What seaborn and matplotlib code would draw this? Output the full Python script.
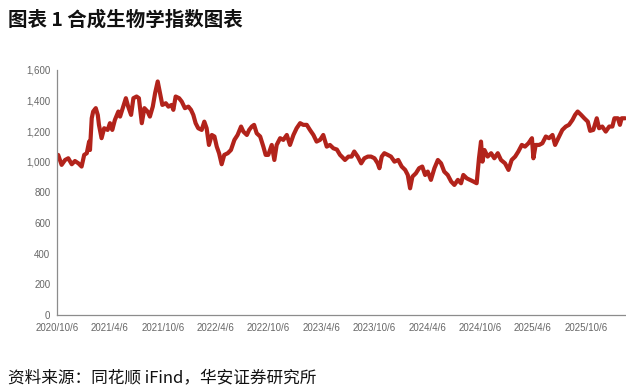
import matplotlib
matplotlib.use("Agg")
import matplotlib.pyplot as plt
import seaborn as sns
import pandas as pd

# ---- data ----
dates = [
    "2020-10-06", "2020-10-09", "2020-10-21", "2020-11-02", "2020-11-13", "2020-11-25",
    "2020-12-06", "2020-12-18", "2020-12-29", "2021-01-07", "2021-01-16", "2021-01-24",
    "2021-01-27", "2021-02-02", "2021-02-07", "2021-02-16", "2021-02-23", "2021-02-27",
    "2021-03-08", "2021-03-17", "2021-03-29", "2021-04-06", "2021-04-14", "2021-04-23",
    "2021-05-05", "2021-05-11", "2021-05-22", "2021-05-31", "2021-06-08", "2021-06-18",
    "2021-06-26", "2021-07-07", "2021-07-15", "2021-07-25", "2021-08-03", "2021-08-14",
    "2021-08-22", "2021-09-01", "2021-09-09", "2021-09-18", "2021-09-26", "2021-10-04",
    "2021-10-16", "2021-10-25", "2021-11-05", "2021-11-11", "2021-11-19", "2021-12-01",
    "2021-12-10", "2021-12-21", "2022-01-02", "2022-01-11", "2022-01-19", "2022-01-27",
    "2022-02-05", "2022-02-17", "2022-02-26", "2022-03-06", "2022-03-14", "2022-03-24",
    "2022-04-02", "2022-04-10", "2022-04-18", "2022-04-27", "2022-05-06", "2022-05-18",
    "2022-05-29", "2022-06-10", "2022-06-21", "2022-07-03", "2022-07-11", "2022-07-23",
    "2022-07-31", "2022-08-09", "2022-08-17", "2022-08-26", "2022-09-07", "2022-09-18",
    "2022-09-26", "2022-10-05", "2022-10-17", "2022-10-26", "2022-11-03", "2022-11-15",
    "2022-11-26", "2022-12-08", "2022-12-19", "2022-12-31", "2023-01-11", "2023-01-23",
    "2023-02-03", "2023-02-15", "2023-02-26", "2023-03-10", "2023-03-21", "2023-04-02",
    "2023-04-13", "2023-04-25", "2023-05-06", "2023-05-18", "2023-05-30", "2023-06-10",
    "2023-06-16", "2023-06-27", "2023-07-09", "2023-07-20", "2023-07-29", "2023-08-10",
    "2023-08-22", "2023-09-02", "2023-09-14", "2023-09-25", "2023-10-07", "2023-10-18",
    "2023-10-24", "2023-11-01", "2023-11-10", "2023-11-22", "2023-12-03", "2023-12-15",
    "2023-12-28", "2024-01-09", "2024-01-21", "2024-01-30", "2024-02-07", "2024-02-15",
    "2024-02-27", "2024-03-09", "2024-03-20", "2024-03-30", "2024-04-08", "2024-04-19",
    "2024-05-01", "2024-05-13", "2024-05-24", "2024-06-04", "2024-06-16", "2024-06-28",
    "2024-07-09", "2024-07-21", "2024-08-01", "2024-08-09", "2024-08-21", "2024-09-01",
    "2024-09-13", "2024-09-24", "2024-10-02", "2024-10-09", "2024-10-14", "2024-10-21",
    "2024-11-01", "2024-11-13", "2024-11-24", "2024-12-06", "2024-12-17", "2024-12-31",
    "2025-01-12", "2025-01-23", "2025-02-04", "2025-02-15", "2025-02-27", "2025-03-10",
    "2025-03-22", "2025-04-03", "2025-04-08", "2025-04-16", "2025-04-28", "2025-05-09",
    "2025-05-21", "2025-06-01", "2025-06-13", "2025-06-22", "2025-07-03", "2025-07-17",
    "2025-07-29", "2025-08-09", "2025-08-21", "2025-08-30", "2025-09-08", "2025-09-20",
    "2025-10-01", "2025-10-13", "2025-10-21", "2025-11-01", "2025-11-13", "2025-11-21",
    "2025-12-02", "2025-12-14", "2025-12-26", "2026-01-06", "2026-01-13", "2026-01-25",
    "2026-02-01", "2026-02-07", "2026-02-19",
]
index_values = [
    1040, 1045, 980, 1012, 1023, 984,
    1005, 990, 969, 1045, 1056, 1132,
    1077, 1284, 1328, 1350, 1305, 1241,
    1154, 1219, 1208, 1252, 1208, 1273,
    1328, 1295, 1360, 1415, 1360, 1306,
    1415, 1426, 1415, 1252, 1350, 1328,
    1295, 1360, 1448, 1524, 1448, 1371,
    1382, 1360, 1371, 1339, 1426, 1415,
    1393, 1350, 1360, 1339, 1306, 1252,
    1219, 1208, 1262, 1219, 1110, 1175,
    1165, 1099, 1056, 984, 1045, 1056,
    1077, 1143, 1175, 1230, 1197, 1175,
    1208, 1230, 1241, 1186, 1165, 1099,
    1045, 1045, 1110, 1012, 1110, 1154,
    1143, 1175, 1110, 1175, 1219, 1252,
    1241, 1241, 1208, 1175, 1132, 1143,
    1175, 1099, 1110, 1088, 1080, 1045,
    1034, 1012, 1034, 1034, 1067, 1034,
    990, 1023, 1034, 1034, 1023, 990,
    958, 1034, 1056, 1045, 1034, 1001,
    1012, 969, 947, 914, 827, 903,
    925, 958, 969, 914, 936, 882,
    958, 1012, 990, 936, 914, 871,
    849, 882, 860, 914, 892, 882,
    871, 860, 1023, 1132, 1001, 1077,
    1034, 1056, 1023, 1056, 1012, 990,
    947, 1012, 1034, 1067, 1110, 1099,
    1121, 1154, 1023, 1110, 1110, 1121,
    1165, 1154, 1175, 1110, 1154, 1208,
    1230, 1241, 1273, 1306, 1328, 1306,
    1284, 1262, 1202, 1208, 1284, 1219,
    1230, 1197, 1230, 1230, 1284, 1284,
    1241, 1284, 1284,
]
tick_dates = ["2020-10-06", "2021-04-06", "2021-10-06", "2022-04-06", "2022-10-06",
              "2023-04-06", "2023-10-06", "2024-04-06", "2024-10-06", "2025-04-06",
              "2025-10-06"]
tick_labels = ["2020/10/6", "2021/4/6", "2021/10/6", "2022/4/6", "2022/10/6",
               "2023/4/6", "2023/10/6", "2024/4/6", "2024/10/6", "2025/4/6",
               "2025/10/6"]
y_ticks = [0, 200, 400, 600, 800, 1000, 1200, 1400, 1600]
title_text = "图表 1 合成生物学指数图表"
source_text = "资料来源：同花顺 iFind，华安证券研究所"

# ---- plotting ----
sns.set_theme(style="white")
plt.rcParams["font.family"] = ["Liberation Sans", "Noto Sans CJK SC", "DejaVu Sans"]

df = pd.DataFrame({"date": pd.to_datetime(dates), "value": index_values})

fig = plt.figure(figsize=(6.26, 3.88), dpi=100)
ax = fig.add_axes([0.0915, 0.188, 0.9085, 0.632])

line_color = "#B2231B"
sns.lineplot(data=df, x="date", y="value", ax=ax, color=line_color, linewidth=3.0)

ax.set_xlim(pd.Timestamp("2020-10-06"), pd.Timestamp("2026-02-22"))
ax.set_ylim(0, 1600)
ax.set_yticks(y_ticks)
ax.set_yticklabels([f"{v:,}" for v in y_ticks])
ax.set_xticks(pd.to_datetime(tick_dates))
ax.set_xticklabels(tick_labels)
ax.set_xlabel("")
ax.set_ylabel("")

grey = "#8C8C8C"
for side in ["top", "right"]:
    ax.spines[side].set_visible(False)
for side in ["left", "bottom"]:
    ax.spines[side].set_visible(True)
    ax.spines[side].set_color(grey)
    ax.spines[side].set_linewidth(0.9)
ax.tick_params(axis="both", which="major", direction="out", length=3, width=0.8,
               color=grey, labelsize=7, labelcolor="#666666", pad=2)
ax.tick_params(axis="x", pad=3)
ax.grid(False)

fig.text(0.013, 0.948, title_text, fontsize=14, fontweight="bold",
         family=["Noto Sans CJK SC", "DejaVu Sans"], color="#111111", va="center")
fig.text(0.013, 0.026, source_text, fontsize=12,
         family=["Noto Sans CJK SC", "DejaVu Sans"], color="#111111", va="center")

fig.savefig("out.png", dpi=100, facecolor="white")
